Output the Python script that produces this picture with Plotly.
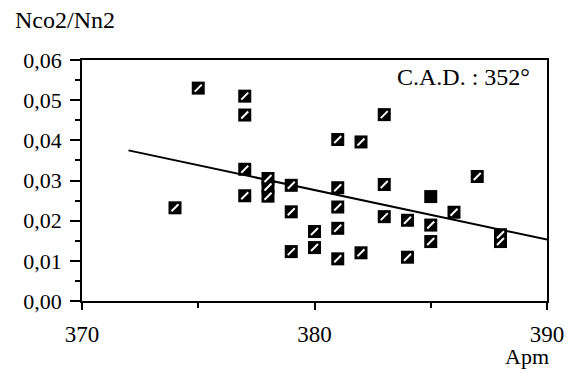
import plotly.graph_objects as go

# Data
apm = [374, 375, 377, 377, 377, 377, 378, 378, 378, 379, 379, 379, 380, 380,
       381, 381, 381, 381, 381, 382, 382, 383, 383, 383, 384, 384, 385, 385,
       386, 387, 388, 388]
ratio = [0.0232, 0.0530, 0.0510, 0.0463, 0.0328, 0.0262, 0.0305, 0.0284, 0.0261,
         0.0288, 0.0222, 0.0123, 0.0173, 0.0133, 0.0402, 0.0282, 0.0234, 0.0181,
         0.0105, 0.0396, 0.0120, 0.0464, 0.0290, 0.0210, 0.0201, 0.0109, 0.0189,
         0.0148, 0.0221, 0.0310, 0.0165, 0.0148]
solid_apm = [385]
solid_ratio = [0.0260]
trend_apm = [372, 390]
trend_ratio = [0.0375, 0.0153]

y_ticks = [0.00, 0.01, 0.02, 0.03, 0.04, 0.05, 0.06]
y_labels = ["0,00", "0,01", "0,02", "0,03", "0,04", "0,05", "0,06"]
x_ticks = [370, 380, 390]
x_labels = ["370", "380", "390"]

FONT = "Liberation Serif"

fig = go.Figure()
fig.add_trace(go.Scatter(x=trend_apm, y=trend_ratio, mode="lines",
                         line=dict(color="black", width=2), hoverinfo="skip"))
fig.add_trace(go.Scatter(x=apm + solid_apm, y=ratio + solid_ratio, mode="markers",
                         marker=dict(symbol="square", size=13, color="black",
                                     line=dict(width=0))))
fig.add_trace(go.Scatter(x=apm, y=ratio, mode="markers",
                         marker=dict(symbol="line-ne", size=7,
                                     line=dict(color="white", width=2))))

axis_common = dict(showgrid=False, zeroline=False, showline=True, linecolor="black",
                   linewidth=1.5, mirror=True, ticks="outside", tickcolor="black",
                   tickwidth=1.5)

fig.update_layout(
    width=575, height=376,
    margin=dict(l=82, r=28, t=60, b=75),
    plot_bgcolor="white", paper_bgcolor="white",
    showlegend=False,
    xaxis=dict(range=[370, 390], tickvals=x_ticks, ticktext=x_labels, ticklen=7,
               minor=dict(dtick=5, tick0=370, ticks="outside", ticklen=5,
                          tickcolor="black", tickwidth=1.5),
               ticklabelstandoff=5,
               tickfont=dict(family=FONT, size=23, color="black"), **axis_common),
    yaxis=dict(range=[0, 0.06], tickvals=y_ticks, ticktext=y_labels, ticklen=10,
               minor=dict(dtick=0.005, tick0=0, ticks="outside", ticklen=5,
                          tickcolor="black", tickwidth=1.5),
               ticklabelstandoff=4,
               tickfont=dict(family=FONT, size=22, color="black"), **axis_common),
    annotations=[
        dict(text="Nco2/Nn2", xref="paper", yref="paper", x=0, y=1,
             xanchor="left", yanchor="middle", xshift=-69, yshift=40,
             showarrow=False, font=dict(family=FONT, size=24, color="black")),
        dict(text="C.A.D. : 352°", xref="paper", yref="paper", x=1, y=1,
             xanchor="right", yanchor="middle", xshift=-15, yshift=-17,
             showarrow=False, font=dict(family=FONT, size=24, color="black")),
        dict(text="Apm", xref="paper", yref="paper", x=1, y=0,
             xanchor="center", yanchor="middle", xshift=-20, yshift=-55,
             showarrow=False, font=dict(family=FONT, size=22, color="black")),
    ],
)

fig.write_html("out.html")
